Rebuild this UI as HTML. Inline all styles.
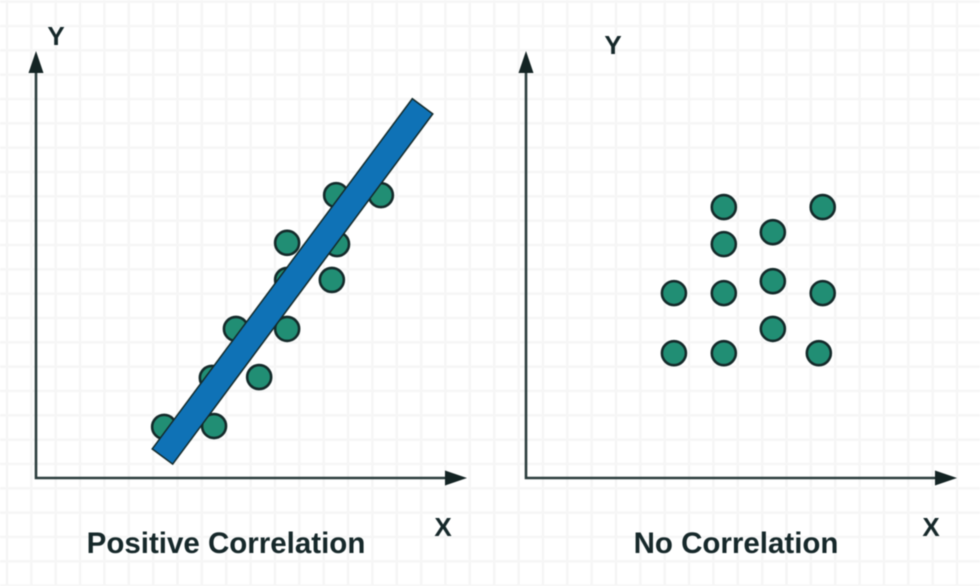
<!DOCTYPE html>
<html><head><meta charset="utf-8"><style>
html,body{margin:0;padding:0;background:#fff}
svg{display:block;filter:blur(0.45px)}
text{font-family:"Liberation Sans",sans-serif;font-weight:700;fill:#16282a}
</style></head><body>
<svg id="chart" width="980" height="586" viewBox="0 0 980 586" xmlns="http://www.w3.org/2000/svg">
<rect width="980" height="586" fill="#fff"/>
<g id="grid"></g>
<g id="left"></g>
<g id="right"></g>
</svg>
<script>
const leftX = [29.8, 41.4, 40.9, 51.9, 46.5, 58.4, 58.4, 68.8, 58.4, 70, 69.8, 80.2];
const leftY = [12, 12.2, 23.5, 23.7, 35, 35, 46.5, 46.5, 55.2, 54.9, 66.4, 66.4];
const rightX = [34.4, 34.4, 46, 46, 46, 46, 57.4, 57.4, 57.4, 69, 69, 68.1];
const rightY = [43.4, 29.3, 63.6, 54.9, 43.4, 29.3, 57.7, 46.2, 35, 63.6, 43.4, 29.3];
const trendX = [29.3, 90];
const trendY = [4.9, 87.4];

const NS = 'http://www.w3.org/2000/svg';
const sx = (v, x0) => x0 + v * 4.3;
const sy = v => 478 - v * 4.26;
function mk(parent, tag, attrs, txt) {
  const el = document.createElementNS(NS, tag);
  for (const k in attrs) el.setAttribute(k, attrs[k]);
  if (txt) el.textContent = txt;
  parent.appendChild(el);
  return el;
}
const grid = document.getElementById('grid');
for (let i = 0; i < 41; i++) {
  const x = 7 + i * 24.36;
  const vl = mk(grid, 'line', {x1: x, x2: x, y1: 0, y2: 586, stroke: '#f5f5f5', 'stroke-width': 2.4});
  
  
}
for (let i = 0; i < 25; i++) {
  const y = 1.7 + i * 24.33;
  const hl = mk(grid, 'line', {x1: 0, x2: 980, y1: y, y2: y, stroke: '#f6f6f6', 'stroke-width': 2.4});
  
  
}
function axes(g, x0) {
  const ax = mk(g, 'path', {d: `M${x0} 72V478H${x0 + 412}`, fill: 'none', stroke: '#2b3d3d', 'stroke-width': 2.6});
  
  
  const ya = mk(g, 'path', {d: `M${x0} 51L${x0 + 7.5} 73H${x0 - 7.5}Z`, fill: '#142424'});
  
  
  const xa = mk(g, 'path', {d: `M${x0 + 431} 478L${x0 + 409} 470.5V485.5Z`, fill: '#142424'});
  
  
}
function points(g, xs, ys, x0) {
  xs.forEach((v, i) => {
    const c = mk(g, 'circle', {cx: sx(v, x0), cy: sy(ys[i]), r: 12, fill: '#218e74', stroke: '#142a2a', 'stroke-width': 2.6});
    
    
  });
}
function label(g, x, y, size, s, anchor, name) {
  const t = mk(g, 'text', {x: x, y: y, 'font-size': size, 'text-anchor': anchor}, s);
  
  
}
const L = document.getElementById('left');
const R = document.getElementById('right');
axes(L, 36);
axes(R, 526);
points(L, leftX, leftY, 36);
points(R, rightX, rightY, 526);
const tr = mk(L, 'line', {x1: sx(trendX[0], 36), y1: sy(trendY[0]), x2: sx(trendX[1], 36), y2: sy(trendY[1]), stroke: '#142a2a', 'stroke-width': 27});


const dx = sx(trendX[1], 36) - sx(trendX[0], 36), dy = sy(trendY[1]) - sy(trendY[0]);
const len = Math.hypot(dx, dy), ux = dx / len, uy = dy / len;
const tf = mk(L, 'line', {x1: sx(trendX[0], 36) + ux * 1.5, y1: sy(trendY[0]) + uy * 1.5, x2: sx(trendX[1], 36) - ux * 1.5, y2: sy(trendY[1]) - uy * 1.5, stroke: '#0f72b6', 'stroke-width': 24});


label(L, 56, 45, 26, 'Y', 'middle', 'y-axis-title');
label(L, 443, 536, 26, 'X', 'middle', 'x-axis-title');
label(L, 226, 553, 29.5, 'Positive Correlation', 'middle', 'positive-correlation-title');
label(R, 613, 54, 26, 'Y', 'middle', 'y-axis-title');
label(R, 931, 536, 26, 'X', 'middle', 'x-axis-title');
label(R, 736, 553, 29.5, 'No Correlation', 'middle', 'no-correlation-title');
</script>
</body></html>
